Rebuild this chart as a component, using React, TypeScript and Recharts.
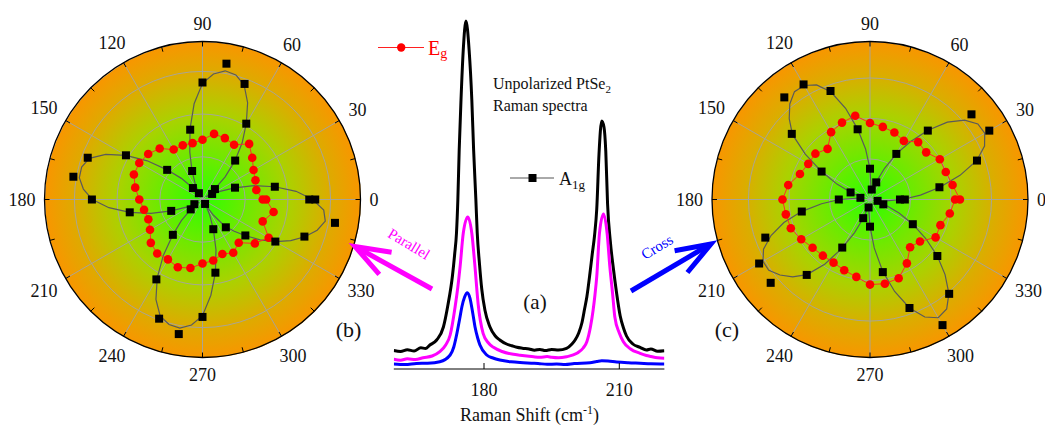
import React from 'react';
import {
  RadarChart,
  Radar,
  PolarGrid,
  PolarAngleAxis,
  PolarRadiusAxis,
  LineChart,
  Line,
  XAxis,
  YAxis,
} from 'recharts';

const FONT = "'Liberation Serif', 'Times New Roman', Times, serif";

// ---------------- polar panels: angles in degrees ----------------
const ANGLES_10 = [0, 10, 20, 30, 40, 50, 60, 70, 80, 90, 100, 110, 120, 130, 140, 150, 160, 170, 180, 190, 200, 210, 220, 230, 240, 250, 260, 270, 280, 290, 300, 310, 320, 330, 340, 350, 360];
const ANGLES_5 = [0, 5, 10, 15, 20, 25, 30, 35, 40, 45, 50, 55, 60, 65, 70, 75, 80, 85, 90, 95, 100, 105, 110, 115, 120, 125, 130, 135, 140, 145, 150, 155, 160, 165, 170, 175, 180, 185, 190, 195, 200, 205, 210, 215, 220, 225, 230, 235, 240, 245, 250, 255, 260, 265, 270, 275, 280, 285, 290, 295, 300, 305, 310, 315, 320, 325, 330, 335, 340, 345, 350, 355];
const MAJOR_ANGLE_TICKS = [0, 30, 60, 90, 120, 150, 180, 210, 240, 270, 300, 330];
const MINOR_ANGLE_TICKS = [0, 15, 30, 45, 60, 75, 90, 105, 120, 135, 150, 165, 180, 195, 210, 225, 240, 255, 270, 285, 300, 315, 330, 345];
const RING_TICKS = [0, 1, 2, 3];

// (b) Parallel
const PAR_R_MAX = 3.7;
const PAR_EG = [1.41, 1.28, 1.32, 1.38, 1.52, 1.70, 1.48, 1.53, 1.56, 1.40, 1.34, 1.35, 1.35, 1.56, 1.66, 1.71, 1.71, 1.60, 1.48, 1.39, 1.35, 1.42, 1.58, 1.65, 1.62, 1.69, 1.63, 1.50, 1.45, 1.36, 1.44, 1.32, 1.60, 1.79, 1.50, 1.69, 1.49];
const PAR_A1G = [2.50, 1.72, 0.81, 0.26, 0.38, 1.19, 2.05, 2.88, 3.23, 2.74, 1.66, 0.71, 0.17, 0.35, 1.08, 2.07, 2.86, 3.07, 2.59, 1.73, 0.78, 0.22, 0.36, 1.08, 2.16, 2.97, 3.20, 2.75, 1.74, 0.74, 0.12, 0.85, 1.31, 1.97, 2.54, 3.15, 2.64];
const PAR_FIT = [
  2.58, 2.2, 1.72, 1.25, 0.8, 0.45, 0.2, 0.1,
  0.35, 0.75, 1.18, 1.62, 2.05, 2.5, 2.85, 3.02, 3.06, 2.95, 2.72, 2.25, 1.68, 1.15, 0.72, 0.4, 0.17, 0.1,
  0.35, 0.7, 1.08, 1.58, 2.07, 2.5, 2.82, 2.93, 2.93, 2.8, 2.58, 2.2, 1.73, 1.25, 0.78, 0.42, 0.2, 0.1,
  0.36, 0.7, 1.08, 1.6, 2.12, 2.58, 2.9, 3.03, 3.06, 2.95, 2.72, 2.25, 1.74, 1.22, 0.75, 0.4,
  0.15, 0.45, 0.82, 1.05, 1.32, 1.65, 1.97, 2.28, 2.55, 2.78, 2.92, 2.85,
];

// (c) Cross
const CROSS_R_MAX = 3.9;
const CROSS_EG = [2.22, 2.07, 1.99, 1.99, 1.81, 1.85, 1.67, 1.76, 1.82, 1.89, 2.10, 2.02, 1.92, 1.63, 1.76, 1.76, 1.84, 2.05, 2.16, 2.11, 2.08, 1.96, 1.85, 1.81, 1.80, 1.86, 1.94, 2.10, 2.11, 2.07, 1.82, 1.54, 1.61, 1.87, 1.85, 2.00, 2.10];
const CROSS_A1G = [0.74, 1.74, 2.81, 3.40, 3.27, 2.22, 1.30, 0.45, 0.25, 0.76, 1.76, 2.85, 3.28, 3.29, 2.52, 1.38, 0.51, 0.24, 0.77, 1.71, 2.75, 3.16, 3.20, 2.43, 1.37, 0.49, 0.20, 0.67, 1.82, 2.85, 3.58, 3.04, 2.17, 1.22, 0.35, 0.19, 0.86];
const CROSS_FIT = [
  0.8, 1.25, 1.75, 2.3, 2.8, 3.12, 3.27, 3.25,
  3.05, 2.7, 2.23, 1.75, 1.3, 0.85, 0.48, 0.25, 0.15, 0.3, 0.76, 1.25, 1.77, 2.33, 2.83, 3.12, 3.25, 3.25,
  3.08, 2.82, 2.5, 1.95, 1.38, 0.9, 0.5, 0.25, 0.2, 0.35, 0.75, 1.2, 1.72, 2.2, 2.6, 2.9, 3.05, 3.05,
  2.9, 2.7, 2.42, 1.95, 1.4, 0.9, 0.5, 0.25, 0.15, 0.3, 0.67, 1.2, 1.8, 2.35, 2.85, 3.2,
  3.37, 3.3, 3.03, 2.62, 2.17, 1.68, 1.22, 0.8, 0.42, 0.22, 0.15, 0.4,
];

// ---------------- (a) Raman spectra ----------------
const SHIFT_TICKS = [180, 210];
const BLACK_SHIFT = [160, 161.5, 163, 164.5, 166, 167, 168, 169.5, 171, 172, 173, 173.5, 173.9, 174.2, 174.5, 174.9, 175.4, 176, 176.7, 177.3, 177.7, 178.2, 178.5, 179, 179.5, 180.2, 181.3, 182.5, 183.5, 185, 186.2, 187.3, 188.5, 190, 191.2, 192.4, 193.6, 195, 196.5, 198.3, 199.5, 200.2, 201, 201.7, 202.3, 202.8, 203.5, 204, 204.5, 205, 205.5, 206.1, 206.6, 207, 207.4, 208, 208.7, 209.4, 210.2, 211, 211.6, 213, 214.6, 216, 217, 218.5, 220];
const BLACK_COUNTS = [185, 175, 192, 180, 212, 205, 240, 290, 420, 640, 930, 1150, 1360, 1690, 2190, 2690, 3190, 3480, 3190, 2690, 2190, 1690, 1360, 1050, 800, 590, 423, 330, 290, 250, 232, 217, 208, 200, 188, 196, 184, 195, 190, 207, 250, 290, 360, 460, 600, 720, 960, 1150, 1330, 1600, 2150, 2480, 2420, 2180, 1650, 1280, 1000, 760, 530, 400, 330, 250, 217, 190, 200, 178, 183];
const MAGENTA_SHIFT = [160, 161.5, 163, 164.8, 166.5, 168.5, 170.2, 171.5, 172.5, 173.6, 174.2, 174.7, 175.4, 176.4, 177.3, 178.0, 178.7, 179.8, 181, 182.1, 184, 186.5, 188, 189.5, 191, 192.4, 194, 195, 196.5, 198.3, 200.6, 202, 202.8, 203.6, 204.2, 204.6, 205.0, 205.6, 206.5, 207.3, 207.9, 208.5, 209, 210, 210.9, 212.5, 214.6, 216, 217, 218.5, 220];
const MAGENTA_COUNTS = [97, 88, 102, 95, 113, 130, 173, 240, 340, 623, 820, 1023, 1357, 1520, 1357, 1023, 650, 357, 260, 217, 175, 147, 138, 130, 122, 117, 124, 117, 112, 123, 157, 210, 273, 420, 590, 740, 923, 1357, 1550, 1357, 1023, 760, 523, 360, 273, 200, 157, 135, 125, 112, 107];
const BLUE_SHIFT = [160, 162.5, 165, 167.5, 170.2, 172.5, 173.3, 174, 174.6, 175.1, 175.7, 176.3, 176.9, 177.5, 178, 178.6, 179.1, 180.6, 182, 183.5, 186, 188.7, 190.5, 192, 194, 196.1, 198, 200, 203.5, 205, 206.1, 207.5, 209.4, 212, 214.6, 217, 220];
const BLUE_COUNTS = [50, 44, 55, 58, 73, 140, 220, 357, 500, 623, 720, 763, 707, 560, 423, 310, 240, 140, 110, 90, 72, 63, 58, 55, 47, 50, 46, 55, 63, 75, 83, 80, 70, 62, 57, 52, 50];

// ---------------- layout constants ----------------
const H = 428;
const R_OUT = 158;
const GRADIENT =
  'radial-gradient(circle closest-side at center, #2cff00 0%, #6cea00 27%, #aad200 54%, #dcac00 80%, #f89600 100%)';

const toPolar = (angles: number[], values: number[]) => angles.map((angle, i) => ({ angle, r: values[i] }));
const toXY = (xs: number[], ys: number[]) => xs.map((x, i) => ({ x, y: ys[i] }));

const makeAngleLabel = (cx: number, cy: number) => (props: any) => {
  const p = props.payload || {};
  const deg = typeof p.coordinate === 'number' ? p.coordinate : Number(p.value);
  const text = String(p.value);
  const rad = (deg * Math.PI) / 180;
  const c = Math.cos(rad);
  const s = Math.sin(rad);
  const rc = R_OUT + 9 + text.length * 4.5 * Math.abs(c) + 8.5 * Math.abs(s);
  return (
    <text
      x={cx + rc * c}
      y={cy - rc * s}
      textAnchor="middle"
      dominantBaseline="central"
      fontFamily={FONT}
      fontSize={18}
      fill="#111"
    >
      {text}
    </text>
  );
};

const squareDot = (p: any) => (
  <rect key={`sq-${p.cx}-${p.cy}`} x={p.cx - 4} y={p.cy - 4} width={8} height={8} fill="#000" />
);
const circleDot = (p: any) => (
  <circle key={`ci-${p.cx}-${p.cy}`} cx={p.cx} cy={p.cy} r={4.3} fill="#ff0000" />
);

type PanelProps = {
  left: number;
  width: number;
  cx: number;
  cy: number;
  rMax: number;
  eg: number[];
  a1g: number[];
  fit: number[];
};

function PolarPanel({ left, width, cx, cy, rMax, eg, a1g, fit }: PanelProps) {
  const egData = toPolar(ANGLES_10, eg);
  const a1gData = toPolar(ANGLES_10, a1g);
  const fitData = toPolar(ANGLES_5, fit);
  const chartProps = {
    width,
    height: H,
    cx,
    cy,
    innerRadius: 0,
    outerRadius: R_OUT,
    startAngle: 0,
    endAngle: 360,
    margin: { top: 0, right: 0, bottom: 0, left: 0 },
  };
  const layer: React.CSSProperties = { position: 'absolute', left: 0, top: 0 };
  const hiddenAngle = (
    <PolarAngleAxis dataKey="angle" type="number" domain={[0, 360]} tick={false} tickLine={false} axisLine={false} />
  );
  const radiusAxis = (
    <PolarRadiusAxis
      type="number"
      domain={[0, rMax]}
      ticks={RING_TICKS}
      tickCount={2}
      allowDecimals
      allowDataOverflow
      tick={false}
      axisLine={false}
    />
  );
  return (
    <div style={{ position: 'absolute', left, top: 0, width, height: H }}>
      <div
        style={{
          position: 'absolute',
          left: cx - R_OUT,
          top: cy - R_OUT,
          width: 2 * R_OUT,
          height: 2 * R_OUT,
          borderRadius: '50%',
          background: GRADIENT,
        }}
      />
      <div style={layer}>
        <RadarChart {...chartProps} data={fitData}>
          <PolarGrid gridType="circle" stroke="#a4a4a4" strokeWidth={0.9} />
          <PolarAngleAxis
            dataKey="angle"
            type="number"
            domain={[0, 360]}
            ticks={MAJOR_ANGLE_TICKS}
            axisLineType="circle"
            axisLine={{ stroke: '#000', strokeWidth: 1.3 }}
            tickLine={false}
            tick={makeAngleLabel(cx, cy)}
          />
          {radiusAxis}
        </RadarChart>
      </div>
      <div style={layer}>
        <RadarChart {...chartProps} data={fitData}>
          <PolarAngleAxis
            dataKey="angle"
            type="number"
            domain={[0, 360]}
            ticks={MINOR_ANGLE_TICKS}
            orientation="inner"
            tickSize={5}
            axisLine={false}
            tickLine={{ stroke: '#000', strokeWidth: 1 }}
            tick={false}
          />
          {radiusAxis}
          <Radar dataKey="r" stroke="#5a5a5a" strokeWidth={1.2} fill="none" fillOpacity={0} dot={false} isAnimationActive={false} />
        </RadarChart>
      </div>
      <div style={layer}>
        <RadarChart {...chartProps} data={egData}>
          {hiddenAngle}
          {radiusAxis}
          <Radar dataKey="r" stroke="#ff2a2a" strokeWidth={1} fill="none" fillOpacity={0} dot={circleDot} isAnimationActive={false} />
        </RadarChart>
      </div>
      <div style={layer}>
        <RadarChart {...chartProps} data={a1gData}>
          {hiddenAngle}
          {radiusAxis}
          <Radar dataKey="r" stroke="none" fill="none" fillOpacity={0} dot={squareDot} isAnimationActive={false} />
        </RadarChart>
      </div>
    </div>
  );
}

function SpectraPanel() {
  const black = toXY(BLACK_SHIFT, BLACK_COUNTS);
  const magenta = toXY(MAGENTA_SHIFT, MAGENTA_COUNTS);
  const blue = toXY(BLUE_SHIFT, BLUE_COUNTS);
  return (
    <div style={{ position: 'absolute', left: 380, top: 0 }}>
      <LineChart width={300} height={H} margin={{ top: 9, right: 15.6, bottom: 29, left: 13.8 }}>
        <XAxis
          dataKey="x"
          type="number"
          domain={[160, 220]}
          ticks={SHIFT_TICKS}
          allowDataOverflow
          height={30}
          tickSize={-6}
          tickMargin={20}
          axisLine={{ stroke: '#000', strokeWidth: 1 }}
          tickLine={{ stroke: '#000', strokeWidth: 1 }}
          tick={{ fill: '#111', fontSize: 18, fontFamily: FONT }}
        />
        <YAxis type="number" domain={[0, 3600]} allowDataOverflow hide />
        <Line data={black} dataKey="y" type="monotone" stroke="#000" strokeWidth={3} dot={false} isAnimationActive={false} />
        <Line data={magenta} dataKey="y" type="monotone" stroke="#ff00ff" strokeWidth={3} dot={false} isAnimationActive={false} />
        <Line data={blue} dataKey="y" type="monotone" stroke="#0000ff" strokeWidth={3} dot={false} isAnimationActive={false} />
      </LineChart>
    </div>
  );
}

function Annotations() {
  return (
    <svg
      width={1045}
      height={H}
      style={{ position: 'absolute', left: 0, top: 0, pointerEvents: 'none', overflow: 'visible' }}
      fontFamily={FONT}
    >
      {/* legend E_g */}
      <line x1={378} y1={47.5} x2={424} y2={47.5} stroke="#ff2020" strokeWidth={1} />
      <circle cx={401.2} cy={47.5} r={4.2} fill="#ff0000" />
      <text x={428} y={55} fontSize={20} fill="#ff0000">
        E<tspan fontSize={14} dy={3}>g</tspan>
      </text>
      {/* legend A_1g */}
      <line x1={510} y1={178} x2={554} y2={178} stroke="#555" strokeWidth={1} />
      <rect x={528.5} y={174} width={8} height={8} fill="#000" />
      <text x={559} y={185} fontSize={18} fill="#111">
        A<tspan fontSize={13} dy={4}>1g</tspan>
      </text>
      {/* title */}
      <text x={493} y={88.5} fontSize={16} fill="#111">
        Unpolarized PtSe<tspan fontSize={11} dy={4}>2</tspan>
      </text>
      <text x={493} y={110.5} fontSize={16} fill="#111">
        Raman spectra
      </text>
      {/* panel labels */}
      <text x={535} y={309} fontSize={21} fill="#111" textAnchor="middle">(a)</text>
      <text x={348.5} y={337} fontSize={22} fill="#111" textAnchor="middle">(b)</text>
      <text x={727} y={337} fontSize={22} fill="#111" textAnchor="middle">(c)</text>
      {/* x-axis title */}
      <text x={529.5} y={421} fontSize={18} fill="#111" textAnchor="middle">
        Raman Shift (cm<tspan fontSize={12} dy={-7}>-1</tspan><tspan dy={7}>)</tspan>
      </text>
      {/* Parallel arrow */}
      <line x1={432} y1={289} x2={357} y2={247.5} stroke="#ff00ff" strokeWidth={5} />
      <polyline points="391.6,252.2 355,246.5 379.3,274.4" fill="none" stroke="#ff00ff" strokeWidth={5} strokeLinejoin="miter" />
      <text x={409} y={244} fontSize={15} fill="#ff00ff" textAnchor="middle" dominantBaseline="central" transform="rotate(31 409 244)">
        Parallel
      </text>
      {/* Cross arrow */}
      <line x1={631} y1={291} x2={709} y2={245} stroke="#0000ff" strokeWidth={5} />
      <polyline points="687.4,272.5 711,244 674.6,250.7" fill="none" stroke="#0000ff" strokeWidth={5} strokeLinejoin="miter" />
      <text x={657} y={247} fontSize={15} fill="#0000ff" textAnchor="middle" dominantBaseline="central" transform="rotate(-31 657 247)">
        Cross
      </text>
    </svg>
  );
}

export default function App() {
  return (
    <div style={{ position: 'absolute', left: 0, top: 0, width: 1045, height: H, background: '#fff', overflow: 'hidden' }}>
      <PolarPanel left={0} width={410} cx={202.5} cy={199.5} rMax={PAR_R_MAX} eg={PAR_EG} a1g={PAR_A1G} fit={PAR_FIT} />
      <PolarPanel left={660} width={390} cx={210} cy={199.5} rMax={CROSS_R_MAX} eg={CROSS_EG} a1g={CROSS_A1G} fit={CROSS_FIT} />
      <SpectraPanel />
      <Annotations />
    </div>
  );
}
